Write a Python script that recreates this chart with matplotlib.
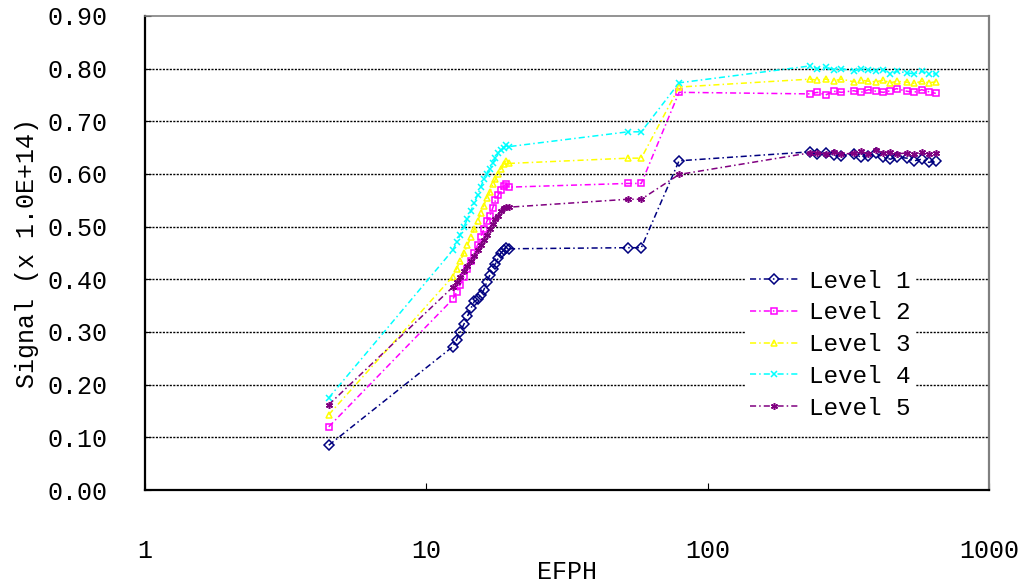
import matplotlib.pyplot as plt

plt.rcParams['font.family'] = ['Liberation Mono', 'DejaVu Sans Mono']

# EFPH values shared by all levels
efph = [4.5,
        12.4, 12.8, 13.2, 13.6, 14.0, 14.4, 14.8, 15.2, 15.6, 16.0,
        16.4, 16.8, 17.2, 17.6, 18.0, 18.4, 18.8, 19.2, 19.7,
        52, 58, 79,
        230, 245, 262, 280, 298,
        330, 350, 372, 395, 420, 445, 468,
        510, 540, 575, 610, 645]

level1 = [0.085,
          0.272, 0.285, 0.300, 0.315, 0.330, 0.345, 0.358, 0.362, 0.370, 0.380,
          0.395, 0.408, 0.420, 0.430, 0.440, 0.450, 0.455, 0.460, 0.458,
          0.460, 0.460, 0.625,
          0.642, 0.638, 0.640, 0.636, 0.635,
          0.638, 0.632, 0.635, 0.640, 0.632, 0.628, 0.632,
          0.630, 0.625, 0.628, 0.622, 0.625]
level2 = [0.120,
          0.362, 0.375, 0.390, 0.405, 0.420, 0.435, 0.450, 0.465, 0.480, 0.495,
          0.510, 0.520, 0.535, 0.550, 0.560, 0.570, 0.578, 0.580, 0.575,
          0.582, 0.582, 0.755,
          0.752, 0.755, 0.750, 0.757, 0.755,
          0.758, 0.755, 0.760, 0.757, 0.755, 0.758, 0.762,
          0.757, 0.755, 0.760, 0.756, 0.753]
level3 = [0.143,
          0.405, 0.420, 0.435, 0.450, 0.465, 0.480, 0.495, 0.510, 0.525, 0.540,
          0.555, 0.565, 0.580, 0.590, 0.600, 0.610, 0.618, 0.624, 0.620,
          0.630, 0.630, 0.765,
          0.780, 0.778, 0.780, 0.777, 0.780,
          0.775, 0.778, 0.776, 0.775, 0.778, 0.773, 0.776,
          0.774, 0.772, 0.776, 0.773, 0.775]
level4 = [0.175,
          0.455, 0.470, 0.485, 0.500, 0.515, 0.530, 0.545, 0.560, 0.575, 0.590,
          0.600, 0.610, 0.620, 0.630, 0.640, 0.645, 0.650, 0.655, 0.652,
          0.680, 0.680, 0.773,
          0.805, 0.800, 0.803, 0.798, 0.800,
          0.795, 0.800, 0.797, 0.795, 0.798, 0.790, 0.795,
          0.792, 0.790, 0.795, 0.790, 0.790]
level5 = [0.162,
          0.385, 0.395, 0.405, 0.415, 0.425, 0.435, 0.445, 0.455, 0.465, 0.475,
          0.485, 0.495, 0.505, 0.515, 0.520, 0.530, 0.535, 0.537, 0.537,
          0.552, 0.552, 0.599,
          0.640, 0.640, 0.638, 0.642, 0.637,
          0.640, 0.643, 0.638, 0.645, 0.640, 0.642, 0.638,
          0.640, 0.637, 0.642, 0.638, 0.640]

labels = ["Level 1", "Level 2", "Level 3", "Level 4", "Level 5"]
colors = ["#000080", "#ff00ff", "#ffff00", "#00ffff", "#800080"]
markers = ["D", "s", "^", "x", (6, 2, 0)]

fig = plt.figure(figsize=(10.2, 5.86), dpi=100)
ax = fig.add_axes([0.142, 0.1638, 0.828, 0.809])

dash = (0, (4, 2, 1, 2))
for ys, lab, c, m in zip([level1, level2, level3, level4, level5], labels, colors, markers):
    ax.plot(efph, ys, color=c, lw=1.1, linestyle=dash, marker=m,
            markersize=5, markerfacecolor='none', markeredgecolor=c,
            markeredgewidth=1.1, label=lab, zorder=3)

ax.set_xscale('log')
ax.set_xlim(1, 1000)
ax.set_ylim(0, 0.9)
ax.set_xticks([1, 10, 100, 1000])
ax.set_xticklabels(["1", "10", "100", "1000"])
ax.xaxis.set_minor_locator(plt.NullLocator())
ax.set_yticks([i / 10 for i in range(10)])
ax.set_yticklabels(["%.2f" % (i / 10) for i in range(10)])

for y in [i / 10 for i in range(1, 9)]:
    ax.axhline(y, color='black', lw=1.0, linestyle=(0, (1.5, 1)), zorder=1)

ax.tick_params(axis='y', direction='in', length=4, pad=27, labelsize=18)
ax.tick_params(axis='x', direction='in', length=5, pad=35, labelsize=18)

ax.spines['left'].set_color('black')
ax.spines['left'].set_linewidth(1.6)
ax.spines['bottom'].set_color('black')
ax.spines['bottom'].set_linewidth(1.6)
ax.spines['right'].set_color('#808080')
ax.spines['right'].set_linewidth(1.6)
ax.spines['top'].set_color('#808080')
ax.spines['top'].set_linewidth(1.2)
ax.spines['top'].set_linestyle((0, (3, 1)))

ax.set_xlabel("EFPH", fontsize=18, labelpad=-2)
ax.set_ylabel("Signal (x 1.0E+14)", fontsize=18, labelpad=6)

leg = ax.legend(loc='upper left', bbox_to_anchor=(0.711, 0.475), fontsize=17.5,
                frameon=True, fancybox=False, edgecolor='none', facecolor='white',
                framealpha=1, borderaxespad=0, borderpad=0.2, labelspacing=0.36,
                handlelength=2.0, handletextpad=0.4)
leg.set_zorder(5)

fig.savefig("out.png", dpi=100)
